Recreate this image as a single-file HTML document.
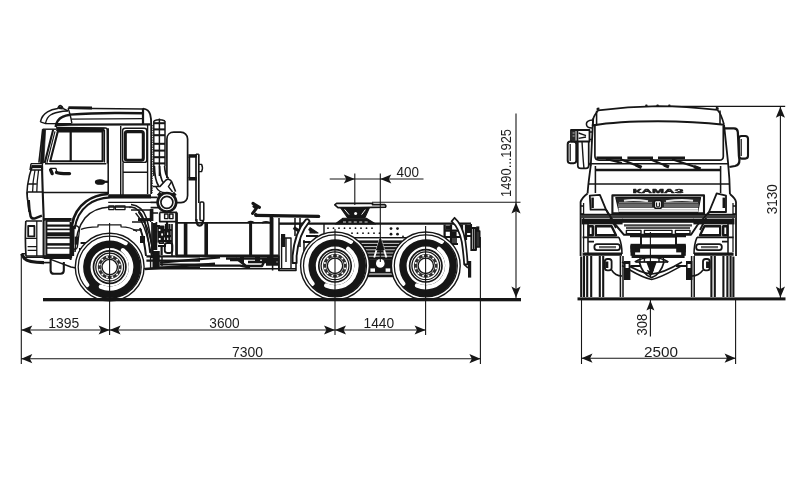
<!DOCTYPE html>
<html><head><meta charset="utf-8"><title>KAMAZ dimensions</title>
<style>
html,body{margin:0;padding:0;background:#fff;}
svg{display:block}
text{font-family:"Liberation Sans",sans-serif;fill:#1c1c1c}
svg{will-change:transform}
</style></head><body>
<svg width="800" height="484" viewBox="0 0 800 484" stroke-linecap="butt" stroke-linejoin="round">
<rect x="0" y="0" width="800" height="484" fill="#fff"/>
<path d="M176,222.8 H272.5" stroke="#161616" stroke-width="1.68" fill="none" />
<path d="M279,223.6 H471" stroke="#161616" stroke-width="2.24" fill="none" />
<path d="M324,237.6 H420 M324,224 V237.6" stroke="#161616" stroke-width="1.4" fill="none" />
<circle cx="328" cy="228.2" r="0.9" stroke="#161616" stroke-width="0.0" fill="#161616"/>
<circle cx="333.5" cy="228.2" r="0.9" stroke="#161616" stroke-width="0.0" fill="#161616"/>
<circle cx="339" cy="228.2" r="0.9" stroke="#161616" stroke-width="0.0" fill="#161616"/>
<circle cx="344.5" cy="228.2" r="0.9" stroke="#161616" stroke-width="0.0" fill="#161616"/>
<circle cx="350" cy="228.2" r="0.9" stroke="#161616" stroke-width="0.0" fill="#161616"/>
<circle cx="355.5" cy="228.2" r="0.9" stroke="#161616" stroke-width="0.0" fill="#161616"/>
<circle cx="361" cy="228.2" r="0.9" stroke="#161616" stroke-width="0.0" fill="#161616"/>
<circle cx="366.5" cy="228.2" r="0.9" stroke="#161616" stroke-width="0.0" fill="#161616"/>
<circle cx="372" cy="228.2" r="0.9" stroke="#161616" stroke-width="0.0" fill="#161616"/>
<circle cx="352" cy="233.2" r="0.9" stroke="#161616" stroke-width="0.0" fill="#161616"/>
<circle cx="357.5" cy="233.2" r="0.9" stroke="#161616" stroke-width="0.0" fill="#161616"/>
<circle cx="363" cy="233.2" r="0.9" stroke="#161616" stroke-width="0.0" fill="#161616"/>
<circle cx="368.5" cy="233.2" r="0.9" stroke="#161616" stroke-width="0.0" fill="#161616"/>
<circle cx="374" cy="233.2" r="0.9" stroke="#161616" stroke-width="0.0" fill="#161616"/>
<circle cx="379.5" cy="233.2" r="0.9" stroke="#161616" stroke-width="0.0" fill="#161616"/>
<circle cx="391" cy="228.6" r="1.4" stroke="#161616" stroke-width="0.0" fill="#161616"/>
<circle cx="391" cy="234.2" r="1.4" stroke="#161616" stroke-width="0.0" fill="#161616"/>
<circle cx="397.5" cy="228.6" r="1.4" stroke="#161616" stroke-width="0.0" fill="#161616"/>
<circle cx="397.5" cy="234.2" r="1.4" stroke="#161616" stroke-width="0.0" fill="#161616"/>
<circle cx="403" cy="236.3" r="0.9" stroke="#161616" stroke-width="0.0" fill="#161616"/>
<path d="M40.4,121.9 C41.5,117 44.5,113.6 47.5,111.9 C50.5,110.2 54,109.2 57.6,108.6 L59,106.2 Q60.2,104.9 61.6,106.2 L63.3,108.6 L68,111" stroke="#161616" stroke-width="1.54" fill="none" />
<path d="M45.6,123.2 C46.5,119 48,116.5 50.5,115 C53.5,113.2 58,112 63,111.3 L67.7,111" stroke="#161616" stroke-width="1.4" fill="none" />
<path d="M40.4,121.9 L45.6,123.6 L71.5,123.7" stroke="#161616" stroke-width="1.4" fill="none" />
<path d="M58.3,107.6 L62.8,108" stroke="#161616" stroke-width="2.8" fill="none" />
<path d="M68,108.2 L143,109" stroke="#161616" stroke-width="1.4" fill="none" />
<path d="M68.5,107.6 L92,108" stroke="#161616" stroke-width="2.8" fill="none" />
<path d="M70,114.6 C85,113.4 105,112.9 120,113 L143,113.2" stroke="#161616" stroke-width="2.38" fill="none" />
<path d="M71.3,119.2 L143,118.7" stroke="#161616" stroke-width="1.26" fill="none" />
<path d="M55.8,125 L71,124.6 L150.5,124.4" stroke="#161616" stroke-width="2.38" fill="none" />
<path d="M55.6,127 C56.2,122.5 59,118.6 62.5,116.9 C65,115.6 68,115 70,114.7" stroke="#161616" stroke-width="2.38" fill="none" />
<path d="M68,108.2 C69.6,112 71,118 71.9,123.4" stroke="#161616" stroke-width="1.4" fill="none" />
<path d="M143,108.4 V124.4" stroke="#161616" stroke-width="2.24" fill="none" />
<path d="M143,108.6 C147,109 149.3,111 150.2,114.5 C151,117.5 151.2,121 151.2,124 V194" stroke="#161616" stroke-width="1.82" fill="none" />
<path d="M147.6,125 V194" stroke="#161616" stroke-width="1.4" fill="none" />
<path d="M56.2,127.6 L105.3,128 Q107.2,128.1 107.3,130 L107.5,163.6" stroke="#161616" stroke-width="1.68" fill="none" />
<path d="M56.2,129.3 L104.5,129.6" stroke="#161616" stroke-width="3.64" fill="none" />
<path d="M57.8,131.4 H102.6 V161.2 H50.2 Z" stroke="#161616" stroke-width="2.1" fill="none" />
<path d="M70.7,131 V161.4" stroke="#161616" stroke-width="2.24" fill="none" />
<path d="M104.4,130 V162.5" stroke="#161616" stroke-width="1.4" fill="none" />
<path d="M45,163.7 H106.3" stroke="#161616" stroke-width="1.54" fill="none" />
<path d="M42.7,129.2 H56" stroke="#161616" stroke-width="1.4" fill="none" />
<path d="M42.7,129.2 L38.9,162.6" stroke="#161616" stroke-width="1.54" fill="none" />
<path d="M42.6,130 L45.6,130 L43.8,163 L40.3,163 Z" stroke="#161616" stroke-width="0.7" fill="#161616" />
<path d="M53.2,129.6 L44.7,163" stroke="#161616" stroke-width="2.1" fill="none" />
<path d="M55,131.4 L46.9,163" stroke="#161616" stroke-width="1.12" fill="none" />
<path d="M108.2,128.2 V194" stroke="#161616" stroke-width="1.54" fill="none" />
<path d="M43,192.6 H108.2" stroke="#161616" stroke-width="1.54" fill="none" />
<path d="M120.7,126 V195" stroke="#161616" stroke-width="1.4" fill="none" />
<path d="M50.2,168.4 H56 L57,173.2 H69.5" stroke="#161616" stroke-width="1.26" fill="none" />
<path d="M50.6,169.8 L52.2,173.6 M56.5,172.5 C60,173.8 65,173.6 69.5,173.6" stroke="#161616" stroke-width="3.36" fill="none" stroke-linecap="round"/>
<ellipse cx="100" cy="182" rx="4.6" ry="2.3" stroke="#161616" stroke-width="1.12" fill="#161616"/>
<path d="M103,181.8 H108" stroke="#161616" stroke-width="2.24" fill="none" />
<rect x="122.6" y="128.2" width="24.2" height="34.2" rx="2.5" stroke="#161616" stroke-width="1.4" fill="none"/>
<rect x="125.3" y="131.6" width="18" height="28.6" rx="2" stroke="#161616" stroke-width="3.08" fill="none"/>
<path d="M123,172.3 H147 M123,162.4 V195" stroke="#161616" stroke-width="1.4" fill="none" />
<path d="M32.5,165.6 C30.5,171 28.6,178 27.6,185 C26.8,190 26.8,196 27.6,200" stroke="#161616" stroke-width="1.54" fill="none" />
<path d="M28.7,200 C28.9,206 29.6,212 30.6,216.2 C31.6,218.6 33.5,218.8 35,218.4 L41.9,215.6" stroke="#161616" stroke-width="2.52" fill="none" />
<path d="M31,163.6 H42.4 V170 H30.2" stroke="#161616" stroke-width="1.4" fill="none" />
<path d="M31,163.6 L30,170" stroke="#161616" stroke-width="1.4" fill="none" />
<path d="M31.6,166.6 H42" stroke="#161616" stroke-width="3.08" fill="none" />
<path d="M35,170 C33.4,178 32.6,186 32.6,192 M38.6,170 C37.4,178 36.8,186 36.8,192" stroke="#161616" stroke-width="1.26" fill="none" />
<path d="M28,184 H36.8 M27.4,192 H43" stroke="#161616" stroke-width="1.26" fill="none" />
<path d="M42,166 C42.3,180 42.8,195 43.6,215 V258.6" stroke="#161616" stroke-width="2.1" fill="none" />
<path d="M27.4,192 C27.2,197 27.8,205 29,212" stroke="#161616" stroke-width="1.26" fill="none" />
<path d="M108.2,195.6 H151" stroke="#161616" stroke-width="2.8" fill="none" />
<path d="M108.2,202.4 H151" stroke="#161616" stroke-width="1.4" fill="none" />
<rect x="108.8" y="206" width="5.2" height="3.6" rx="0" stroke="#161616" stroke-width="1.26" fill="none"/>
<rect x="115.4" y="206" width="9.6" height="3.6" rx="0" stroke="#161616" stroke-width="1.26" fill="none"/>
<circle cx="130" cy="207.4" r="0.8" stroke="#161616" stroke-width="0.0" fill="#161616"/>
<path d="M108.2,194 C100,194.6 92,197 86,201.5 C78.5,207 73.6,215 72,225 L70.8,258" stroke="#161616" stroke-width="2.66" fill="none" />
<path d="M151,197.4 H110.5 C101,198 93,200.6 87.6,205 C80.5,210.6 76,219 74.6,229" stroke="#161616" stroke-width="2.1" fill="none" />
<path d="M75,252 C75.4,238 78.5,226 85,218 C91,211 100,207.4 110,207 H131 C137,207.6 141,212 143.6,219 C146.6,228 148.6,240 150,253" stroke="#161616" stroke-width="1.54" fill="none" />
<path d="M131,204.6 C139,205.4 143.6,210 146.4,218 C149.4,228 151.4,240 152.6,254" stroke="#161616" stroke-width="1.54" fill="none" />
<path d="M74,226 C76.4,225 78.6,226.4 79.6,229 L77.4,247 C76.4,250 74,250 73.4,248 Z" stroke="#161616" stroke-width="1.26" fill="none" />
<path d="M44,219.4 H71.6" stroke="#161616" stroke-width="2.8" fill="none" />
<path d="M81,229.4 C85,227.4 90,226.8 98,226.8 V224.8 H121 V226.8 C127,226.8 133,228.4 137,231.4" stroke="#161616" stroke-width="1.26" fill="none" />
<line x1="46.2" y1="221" x2="70.4" y2="221" stroke="#161616" stroke-width="1.68" />
<line x1="46.2" y1="225.6" x2="70.4" y2="225.6" stroke="#161616" stroke-width="2.24" />
<line x1="46.2" y1="229.4" x2="70.4" y2="229.4" stroke="#161616" stroke-width="1.68" />
<line x1="46.2" y1="234.3" x2="70.4" y2="234.3" stroke="#161616" stroke-width="4.06" />
<line x1="46.2" y1="237.8" x2="70.4" y2="237.8" stroke="#161616" stroke-width="1.68" />
<line x1="46.2" y1="244.4" x2="70.4" y2="244.4" stroke="#161616" stroke-width="2.52" />
<line x1="46.2" y1="248" x2="70.4" y2="248" stroke="#161616" stroke-width="1.4" />
<line x1="46.2" y1="255.2" x2="70.4" y2="255.2" stroke="#161616" stroke-width="2.8" />
<path d="M46.4,221 V258 M70.6,222 V260" stroke="#161616" stroke-width="1.96" fill="none" />
<path d="M25.8,221 H42 M25.8,221 C25.2,232 25.2,244 26,256 M26,256 H43" stroke="#161616" stroke-width="1.68" fill="none" />
<rect x="28.2" y="226" width="6.2" height="10.4" rx="0" stroke="#161616" stroke-width="1.82" fill="none"/>
<path d="M36.8,221 V256 M26,238.4 H36.8 M27.6,246.6 H36.8 M27.6,250.4 H36.8" stroke="#161616" stroke-width="1.26" fill="none" />
<path d="M21.6,253.8 L24.4,258.6 C27,261.6 36,262.6 44,262.6" stroke="#161616" stroke-width="3.08" fill="none" />
<path d="M21.6,253.8 H26 M24,257.2 H44" stroke="#161616" stroke-width="1.4" fill="none" />
<rect x="44" y="255.2" width="27.4" height="3.8" rx="0" stroke="#161616" stroke-width="0.0" fill="#161616"/>
<path d="M50.6,259 V270.6 Q50.8,273.8 54,273.8 H60.6 Q63.8,273.8 63.8,270.6 V262" stroke="#161616" stroke-width="2.1" fill="none" />
<path d="M50.6,259.4 L71,267 L76,268" stroke="#161616" stroke-width="1.54" fill="none" />
<path d="M44,262.6 H50.6" stroke="#161616" stroke-width="1.68" fill="none" />
<path d="M153.8,121 V176 M159.4,118.6 V176 M165,121 V166" stroke="#161616" stroke-width="1.47" fill="none" />
<path d="M153.8,121 Q159.4,118.6 165,121" stroke="#161616" stroke-width="1.54" fill="none" />
<line x1="153.8" y1="123.2" x2="165" y2="123.2" stroke="#161616" stroke-width="2.03" />
<line x1="153.8" y1="129.4" x2="165" y2="129.4" stroke="#161616" stroke-width="2.03" />
<line x1="153.8" y1="135.2" x2="165" y2="135.2" stroke="#161616" stroke-width="2.03" />
<line x1="153.8" y1="143.8" x2="165" y2="143.8" stroke="#161616" stroke-width="2.03" />
<line x1="153.8" y1="150.6" x2="165" y2="150.6" stroke="#161616" stroke-width="2.03" />
<line x1="153.8" y1="157.2" x2="165" y2="157.2" stroke="#161616" stroke-width="2.03" />
<line x1="153.8" y1="163.4" x2="165" y2="163.4" stroke="#161616" stroke-width="2.03" />
<path d="M152,125 V193" stroke="#161616" stroke-width="1.4" fill="none" stroke-dasharray="1.3 1.1"/>
<path d="M154.4,166 C154.6,176 156,182 158.6,186 M159.6,166 C159.8,174 161,180 163.6,183 M164.6,166 C164.8,172 166,176 168.6,178.6" stroke="#161616" stroke-width="1.68" fill="none" />
<path d="M152.6,186.4 H160 L166,180 C168,178.6 170.6,179.6 171.6,181.6 L175.6,191.6" stroke="#161616" stroke-width="1.54" fill="none" />
<path d="M156,187 C158,191 162,193 167,192.6 M171.6,181.6 L168.4,186.6 L172.6,192" stroke="#161616" stroke-width="1.4" fill="none" />
<path d="M173,202.6 H181 C185,202.6 187.6,199.6 187.6,195.6 V139 C187.6,135 184.6,132.2 180.6,132.2 H173.8 C169.8,132.2 166.9,135 166.9,139 V178" stroke="#161616" stroke-width="1.68" fill="none" />
<circle cx="166.9" cy="202.3" r="9.3" stroke="#161616" stroke-width="2.66" fill="#fff"/>
<circle cx="166.9" cy="202.3" r="6.0" stroke="#161616" stroke-width="1.68" fill="none"/>
<path d="M158,195.6 L160.6,192.6 M175.6,195.6 L173,192.6" stroke="#161616" stroke-width="2.8" fill="none" />
<path d="M150.6,197.4 H157.6 M150.6,207.6 H158.6 M150.6,202.4 H157.4" stroke="#161616" stroke-width="1.68" fill="none" />
<rect x="188.4" y="154.2" width="8.4" height="3.5" rx="0" stroke="#161616" stroke-width="0.0" fill="#161616"/>
<rect x="188.4" y="177" width="8.4" height="3.5" rx="0" stroke="#161616" stroke-width="0.0" fill="#161616"/>
<path d="M189.4,157 V178 M196,154.2 V221 M198.8,154.2 V203" stroke="#161616" stroke-width="1.68" fill="none" />
<path d="M196,154.2 H198.8" stroke="#161616" stroke-width="1.4" fill="none" />
<path d="M198.8,164.4 H201.6 Q203.4,168 201.6,171.6 H198.8" stroke="#161616" stroke-width="1.4" fill="none" />
<rect x="200" y="202" width="3.8" height="18.6" rx="1.2" stroke="#161616" stroke-width="1.54" fill="none"/>
<path d="M196.4,219 Q196.4,225.6 199.6,225.6 Q203,225.6 203,220" stroke="#161616" stroke-width="2.24" fill="none" />
<path d="M176,212.6 V255.6" stroke="#161616" stroke-width="1.68" fill="none" />
<path d="M176,255.8 H278.6" stroke="#161616" stroke-width="2.8" fill="none" />
<path d="M185.6,223 V256 M206.2,223 V256" stroke="#161616" stroke-width="3.64" fill="none" />
<path d="M250.6,223 V257" stroke="#161616" stroke-width="3.0" fill="none" />
<path d="M271.4,216 V262" stroke="#161616" stroke-width="3.6" fill="none" />
<path d="M247.6,222.8 Q250.6,220.6 254,222.8 M262,222.8 Q266,220.8 270,222.8" stroke="#161616" stroke-width="1.68" fill="none" />
<path d="M256,215.4 L318.6,216.4" stroke="#161616" stroke-width="3.4" fill="none" stroke-linecap="round"/>
<path d="M254.6,213.6 L257.6,216" stroke="#161616" stroke-width="3.08" fill="none" />
<path d="M252.6,213.4 L256.4,208.4 L254,206.4 M253,203.4 L259.4,207.4" stroke="#161616" stroke-width="3.08" fill="none" stroke-linecap="round"/>
<path d="M272.6,218 V270.6 M279,218 V270.6 M295,218 V236 M300,218 V230" stroke="#161616" stroke-width="1.54" fill="none" />
<path d="M279,223.6 H300" stroke="#161616" stroke-width="1.4" fill="none" />
<path d="M140,268.8 H296" stroke="#161616" stroke-width="1.54" fill="none" />
<path d="M278.8,255.6 V270.6 H296 V250" stroke="#161616" stroke-width="1.54" fill="none" />
<path d="M281.6,238 H291 V268 M281.6,238 V268 M286,238 V262" stroke="#161616" stroke-width="1.4" fill="none" />
<path d="M236,258 L246,266 H262 L266,258 M226,258.4 H278 M248,262 H276" stroke="#161616" stroke-width="2.52" fill="none" />
<path d="M230,259.6 H244 M262,260 H278 M266,264 H278" stroke="#161616" stroke-width="3.36" fill="none" />
<rect x="240" y="257" width="4" height="6" rx="0" stroke="#161616" stroke-width="0.0" fill="#161616"/>
<rect x="255" y="257" width="5" height="5" rx="0" stroke="#161616" stroke-width="0.0" fill="#161616"/>
<rect x="267" y="257" width="6" height="8" rx="0" stroke="#161616" stroke-width="0.0" fill="#161616"/>
<path d="M160,262.6 L220,257.4 M145,269 L215,263.6 M190,265.6 H240 L250,267.6" stroke="#161616" stroke-width="2.38" fill="none" />
<path d="M150.6,256 V268 M162,256 V266" stroke="#161616" stroke-width="1.4" fill="none" />
<rect x="281" y="234" width="4.2" height="13" rx="0" stroke="#161616" stroke-width="0.0" fill="#161616"/>
<path d="M293.6,227.6 L298.6,230.6" stroke="#161616" stroke-width="3.36" fill="none" />
<path d="M308.6,229 L315,232.6 M306,236 H318 M303,242 H314" stroke="#161616" stroke-width="2.1" fill="none" />
<path d="M310,227.6 L318,233 H310 Z" stroke="#161616" stroke-width="1.12" fill="#161616" />
<path d="M300,224 V247 M304,240 V252" stroke="#161616" stroke-width="1.54" fill="none" />
<path d="M305.8,219.6 C298.4,228 294,240 292.6,256 V263 H296.6 V256 C298,241 302.4,230 309.6,221.4 Q308.4,218.2 305.8,219.6 Z" stroke="#161616" stroke-width="1.82" fill="#fff" />
<path d="M334.8,204.8 L336.6,203.3 H372.5 V204.6 H384.6 Q386.6,205.4 385.4,207.2 L359,207.6 H338 Z" stroke="#161616" stroke-width="1.68" fill="#fff" />
<path d="M340.5,207.6 L347.4,217.4 H365 L369.4,207.8 Z" stroke="#161616" stroke-width="1.12" fill="#161616" />
<path d="M344.6,209.4 L349,214.6 M365.4,209.6 L361.6,214.6" stroke="#fff" stroke-width="0.98" fill="none" />
<circle cx="355.6" cy="213.6" r="1.5" stroke="#161616" stroke-width="0.0" fill="#fff"/>
<path d="M335.3,224 L343,218.2 H366.3 L375.6,224 Z" stroke="#161616" stroke-width="1.12" fill="#161616" />
<path d="M343,222 H368" stroke="#fff" stroke-width="0.84" fill="none" stroke-dasharray="3 2.4"/>
<path d="M324,237.6 H437" stroke="#161616" stroke-width="1.4" fill="none" />
<rect x="358" y="240.4" width="44" height="19.4" rx="0" stroke="#161616" stroke-width="0.0" fill="#161616"/>
<line x1="359" y1="243.4" x2="401" y2="243.4" stroke="#fff" stroke-width="0.77" />
<line x1="359" y1="246.6" x2="401" y2="246.6" stroke="#fff" stroke-width="0.77" />
<line x1="359" y1="249.8" x2="401" y2="249.8" stroke="#fff" stroke-width="0.77" />
<line x1="359" y1="253" x2="401" y2="253" stroke="#fff" stroke-width="0.77" />
<line x1="359" y1="256.2" x2="401" y2="256.2" stroke="#fff" stroke-width="0.77" />
<path d="M380.3,238 L374.2,257.4 M380.3,238 L386.4,257.4" stroke="#fff" stroke-width="1.82" fill="none" />
<path d="M380.3,237.6 L376.4,250 H384.2 Z" stroke="#161616" stroke-width="0.84" fill="#161616" />
<rect x="366" y="259.6" width="29" height="17.6" rx="0" stroke="#161616" stroke-width="0.0" fill="#161616"/>
<circle cx="380.3" cy="263.4" r="4.3" stroke="#161616" stroke-width="0.0" fill="#fff"/>
<rect x="370.4" y="268.4" width="4.6" height="3.4" rx="0" stroke="#161616" stroke-width="0.0" fill="#fff"/>
<rect x="385.6" y="268.4" width="4.6" height="3.4" rx="0" stroke="#161616" stroke-width="0.0" fill="#fff"/>
<path d="M368,274 H393" stroke="#fff" stroke-width="0.98" fill="none" />
<path d="M444.6,224.6 V244 H458 M451,224.6 V244 M445,230.6 H458 M445,237 H460" stroke="#161616" stroke-width="2.24" fill="none" />
<rect x="445.4" y="225.4" width="4.8" height="4.4" rx="0" stroke="#161616" stroke-width="0.0" fill="#161616"/>
<rect x="452" y="231.4" width="4.6" height="4.6" rx="0" stroke="#161616" stroke-width="0.0" fill="#161616"/>
<rect x="452" y="238" width="5" height="5" rx="0" stroke="#161616" stroke-width="0.0" fill="#444"/>
<path d="M462,224.6 V236 H471 M466,224.6 V240" stroke="#161616" stroke-width="2.24" fill="none" />
<rect x="466.6" y="225" width="4.4" height="8" rx="0" stroke="#161616" stroke-width="0.0" fill="#161616"/>
<path d="M454.6,217.8 C459.6,222 463.6,231 465.4,241 C466.6,250 467.4,258 467.6,264.4 H464.2 C463.8,258 463,250 461.8,242 C459.8,232 455.8,225 451.6,221.4 Z" stroke="#161616" stroke-width="1.75" fill="#fff" />
<rect x="468" y="261" width="3.2" height="16.6" rx="0" stroke="#161616" stroke-width="0.0" fill="#161616"/>
<path d="M464.2,264.4 L468,268" stroke="#161616" stroke-width="1.68" fill="none" />
<path d="M471.2,224 V251" stroke="#161616" stroke-width="1.68" fill="none" />
<path d="M471.2,228 H476 V250 H471.2 M473.6,228 V250" stroke="#161616" stroke-width="1.96" fill="none" />
<rect x="476" y="231" width="3.8" height="16" rx="0" stroke="#161616" stroke-width="1.4" fill="#333"/>
<path d="M477.8,226.4 V231" stroke="#161616" stroke-width="3.08" fill="none" />
<path d="M159.7,212.4 H177 M159.7,212.4 V221.6 H177" stroke="#161616" stroke-width="1.68" fill="none" />
<rect x="164.6" y="214" width="3.4" height="4.6" rx="0" stroke="#161616" stroke-width="1.4" fill="none"/>
<rect x="169.6" y="214" width="3.4" height="4.6" rx="0" stroke="#161616" stroke-width="1.4" fill="none"/>
<path d="M177,212.4 V256" stroke="#161616" stroke-width="1.82" fill="none" />
<path d="M152,222 V258 M156.4,222 V250 M172,224 V256" stroke="#161616" stroke-width="1.68" fill="none" />
<path d="M153,226 H160 M158,230 H172 M158,236 H171 M160,241 H172 M158,246 H166" stroke="#161616" stroke-width="1.96" fill="none" />
<rect x="158.6" y="226.4" width="5" height="5.6" rx="0" stroke="#161616" stroke-width="1.68" fill="none"/>
<rect x="165" y="231.6" width="4.6" height="5.4" rx="0" stroke="#161616" stroke-width="1.68" fill="none"/>
<rect x="159.4" y="238.6" width="4" height="4.6" rx="0" stroke="#161616" stroke-width="1.54" fill="none"/>
<rect x="164.8" y="243" width="7.6" height="10" rx="2.4" stroke="#161616" stroke-width="1.82" fill="none"/>
<path d="M161.6,247 V255 M167,222 V231" stroke="#161616" stroke-width="2.24" fill="none" />
<path d="M146.4,256.4 H200 M146.4,260.6 H200" stroke="#161616" stroke-width="2.1" fill="none" />
<path d="M153.6,251 V268 M158.6,251 V268" stroke="#161616" stroke-width="2.24" fill="none" />
<path d="M135.6,213 C140,218 144,226 146.4,234 C148.6,242 150.6,250 152,258 M138.4,212 C143,218 147,226 149.2,234 C151,242 152.6,248 154,256" stroke="#161616" stroke-width="1.4" fill="none" />
<path d="M131,210 H150.6 V222 M150.6,213 H158" stroke="#161616" stroke-width="1.4" fill="none" />
<path d="M151.6,209 V221" stroke="#161616" stroke-width="3.6" fill="none" />
<path d="M138,219.6 H151" stroke="#161616" stroke-width="3.0" fill="none" />
<path d="M154.2,223 V250" stroke="#161616" stroke-width="3.64" fill="none" />
<rect x="157.4" y="227" width="6.6" height="15.6" rx="0" stroke="#161616" stroke-width="0.0" fill="#161616"/>
<rect x="158.8" y="229" width="1.6" height="2" rx="0" stroke="#161616" stroke-width="0.0" fill="#fff"/>
<rect x="161.2" y="233.4" width="1.8" height="2.2" rx="0" stroke="#161616" stroke-width="0.0" fill="#fff"/>
<rect x="158.8" y="238" width="1.8" height="2" rx="0" stroke="#161616" stroke-width="0.0" fill="#fff"/>
<path d="M156.4,251 V267.6" stroke="#161616" stroke-width="5.4" fill="none" />
<path d="M166,224 V242 M169.4,224 V242" stroke="#161616" stroke-width="2.24" fill="none" />
<path d="M160,264.6 H215 M160,267.6 H200" stroke="#161616" stroke-width="1.96" fill="none" />
<path d="M140,228 C143,236 145,246 146,256" stroke="#161616" stroke-width="1.96" fill="none" />
<rect x="140" y="236" width="5" height="7" rx="0" stroke="#161616" stroke-width="0.0" fill="#161616"/>
<path d="M72.6,226 V256" stroke="#161616" stroke-width="3.08" fill="none" />
<rect x="74.6" y="236.6" width="3.6" height="8" rx="0" stroke="#161616" stroke-width="0.0" fill="#161616"/>
<path d="M80.6,243 H86 M79,249 H84" stroke="#161616" stroke-width="1.96" fill="none" />
<path d="M132,222 H146 M133,230 H142" stroke="#161616" stroke-width="1.68" fill="none" />
<ellipse cx="109.7" cy="267.1" rx="34.4" ry="33.8" stroke="#161616" stroke-width="1.4" fill="#fff"/>
<circle cx="109.7" cy="267.1" r="25.1" stroke="#161616" stroke-width="11.8" fill="none"/>
<path d="M86.93,284.89 A28.9,28.9 0 0,1 125.44,242.86" stroke="#fff" stroke-width="4.7" fill="none" stroke-linecap="round"/>
<path d="M122.94,250.16 A21.5,21.5 0 0,1 100.96,286.74" stroke="#fff" stroke-width="4.3" fill="none" stroke-linecap="round"/>
<ellipse cx="109.7" cy="267.1" rx="31.5" ry="30.999999999999996" stroke="#161616" stroke-width="1.26" fill="none"/>
<circle cx="109.7" cy="267.1" r="16.2" stroke="#161616" stroke-width="1.68" fill="none"/>
<circle cx="109.7" cy="267.1" r="13.9" stroke="#161616" stroke-width="1.26" fill="none"/>
<circle cx="109.7" cy="267.1" r="10.4" stroke="#2e2e2e" stroke-width="3.0" fill="none"/>
<circle cx="119.75" cy="269.79" r="1.0" stroke="#161616" stroke-width="0.0" fill="#fff"/>
<circle cx="117.05" cy="274.45" r="1.0" stroke="#161616" stroke-width="0.0" fill="#fff"/>
<circle cx="112.39" cy="277.15" r="1.0" stroke="#161616" stroke-width="0.0" fill="#fff"/>
<circle cx="107.01" cy="277.15" r="1.0" stroke="#161616" stroke-width="0.0" fill="#fff"/>
<circle cx="102.35" cy="274.45" r="1.0" stroke="#161616" stroke-width="0.0" fill="#fff"/>
<circle cx="99.65" cy="269.79" r="1.0" stroke="#161616" stroke-width="0.0" fill="#fff"/>
<circle cx="99.65" cy="264.41" r="1.0" stroke="#161616" stroke-width="0.0" fill="#fff"/>
<circle cx="102.35" cy="259.75" r="1.0" stroke="#161616" stroke-width="0.0" fill="#fff"/>
<circle cx="107.01" cy="257.05" r="1.0" stroke="#161616" stroke-width="0.0" fill="#fff"/>
<circle cx="112.39" cy="257.05" r="1.0" stroke="#161616" stroke-width="0.0" fill="#fff"/>
<circle cx="117.05" cy="259.75" r="1.0" stroke="#161616" stroke-width="0.0" fill="#fff"/>
<circle cx="119.75" cy="264.41" r="1.0" stroke="#161616" stroke-width="0.0" fill="#fff"/>
<circle cx="109.7" cy="267.1" r="7.7" stroke="#161616" stroke-width="1.4" fill="#fff"/>
<ellipse cx="335" cy="265.8" rx="34.4" ry="33.8" stroke="#161616" stroke-width="1.4" fill="#fff"/>
<circle cx="335" cy="265.8" r="25.1" stroke="#161616" stroke-width="11.8" fill="none"/>
<path d="M312.23,283.59 A28.9,28.9 0 0,1 350.74,241.56" stroke="#fff" stroke-width="4.7" fill="none" stroke-linecap="round"/>
<path d="M348.24,248.86 A21.5,21.5 0 0,1 326.26,285.44" stroke="#fff" stroke-width="4.3" fill="none" stroke-linecap="round"/>
<ellipse cx="335" cy="265.8" rx="31.5" ry="30.999999999999996" stroke="#161616" stroke-width="1.26" fill="none"/>
<circle cx="335" cy="265.8" r="16.2" stroke="#161616" stroke-width="1.68" fill="none"/>
<circle cx="335" cy="265.8" r="13.9" stroke="#161616" stroke-width="1.26" fill="none"/>
<circle cx="335" cy="265.8" r="10.4" stroke="#2e2e2e" stroke-width="3.0" fill="none"/>
<circle cx="345.05" cy="268.49" r="1.0" stroke="#161616" stroke-width="0.0" fill="#fff"/>
<circle cx="342.35" cy="273.15" r="1.0" stroke="#161616" stroke-width="0.0" fill="#fff"/>
<circle cx="337.69" cy="275.85" r="1.0" stroke="#161616" stroke-width="0.0" fill="#fff"/>
<circle cx="332.31" cy="275.85" r="1.0" stroke="#161616" stroke-width="0.0" fill="#fff"/>
<circle cx="327.65" cy="273.15" r="1.0" stroke="#161616" stroke-width="0.0" fill="#fff"/>
<circle cx="324.95" cy="268.49" r="1.0" stroke="#161616" stroke-width="0.0" fill="#fff"/>
<circle cx="324.95" cy="263.11" r="1.0" stroke="#161616" stroke-width="0.0" fill="#fff"/>
<circle cx="327.65" cy="258.45" r="1.0" stroke="#161616" stroke-width="0.0" fill="#fff"/>
<circle cx="332.31" cy="255.75" r="1.0" stroke="#161616" stroke-width="0.0" fill="#fff"/>
<circle cx="337.69" cy="255.75" r="1.0" stroke="#161616" stroke-width="0.0" fill="#fff"/>
<circle cx="342.35" cy="258.45" r="1.0" stroke="#161616" stroke-width="0.0" fill="#fff"/>
<circle cx="345.05" cy="263.11" r="1.0" stroke="#161616" stroke-width="0.0" fill="#fff"/>
<circle cx="335" cy="265.8" r="7.7" stroke="#161616" stroke-width="1.4" fill="#fff"/>
<ellipse cx="425.8" cy="265.8" rx="34.4" ry="33.8" stroke="#161616" stroke-width="1.4" fill="#fff"/>
<circle cx="425.8" cy="265.8" r="25.1" stroke="#161616" stroke-width="11.8" fill="none"/>
<path d="M403.03,283.59 A28.9,28.9 0 0,1 441.54,241.56" stroke="#fff" stroke-width="4.7" fill="none" stroke-linecap="round"/>
<path d="M439.04,248.86 A21.5,21.5 0 0,1 417.06,285.44" stroke="#fff" stroke-width="4.3" fill="none" stroke-linecap="round"/>
<ellipse cx="425.8" cy="265.8" rx="31.5" ry="30.999999999999996" stroke="#161616" stroke-width="1.26" fill="none"/>
<circle cx="425.8" cy="265.8" r="16.2" stroke="#161616" stroke-width="1.68" fill="none"/>
<circle cx="425.8" cy="265.8" r="13.9" stroke="#161616" stroke-width="1.26" fill="none"/>
<circle cx="425.8" cy="265.8" r="10.4" stroke="#2e2e2e" stroke-width="3.0" fill="none"/>
<circle cx="435.85" cy="268.49" r="1.0" stroke="#161616" stroke-width="0.0" fill="#fff"/>
<circle cx="433.15" cy="273.15" r="1.0" stroke="#161616" stroke-width="0.0" fill="#fff"/>
<circle cx="428.49" cy="275.85" r="1.0" stroke="#161616" stroke-width="0.0" fill="#fff"/>
<circle cx="423.11" cy="275.85" r="1.0" stroke="#161616" stroke-width="0.0" fill="#fff"/>
<circle cx="418.45" cy="273.15" r="1.0" stroke="#161616" stroke-width="0.0" fill="#fff"/>
<circle cx="415.75" cy="268.49" r="1.0" stroke="#161616" stroke-width="0.0" fill="#fff"/>
<circle cx="415.75" cy="263.11" r="1.0" stroke="#161616" stroke-width="0.0" fill="#fff"/>
<circle cx="418.45" cy="258.45" r="1.0" stroke="#161616" stroke-width="0.0" fill="#fff"/>
<circle cx="423.11" cy="255.75" r="1.0" stroke="#161616" stroke-width="0.0" fill="#fff"/>
<circle cx="428.49" cy="255.75" r="1.0" stroke="#161616" stroke-width="0.0" fill="#fff"/>
<circle cx="433.15" cy="258.45" r="1.0" stroke="#161616" stroke-width="0.0" fill="#fff"/>
<circle cx="435.85" cy="263.11" r="1.0" stroke="#161616" stroke-width="0.0" fill="#fff"/>
<circle cx="425.8" cy="265.8" r="7.7" stroke="#161616" stroke-width="1.4" fill="#fff"/>
<path d="M598,110.4 C615,108.2 640,106.4 658,106.2 C676,106.4 700,108 717.4,109.8" stroke="#161616" stroke-width="1.68" fill="none" />
<path d="M598,110.4 L597.4,108.8 L599.4,108.4 M717.4,109.8 L717.8,108.2 L715.8,107.8" stroke="#161616" stroke-width="1.96" fill="none" />
<rect x="645.2" y="104.6" width="2.4" height="2.2" rx="0.8" stroke="#161616" stroke-width="0.0" fill="#161616"/>
<rect x="656.4" y="104.4" width="2.4" height="2.2" rx="0.8" stroke="#161616" stroke-width="0.0" fill="#161616"/>
<rect x="668.2" y="104.6" width="2.4" height="2.2" rx="0.8" stroke="#161616" stroke-width="0.0" fill="#161616"/>
<path d="M598,110.4 C596,113 594,116 593.3,118.4 L592.6,126" stroke="#161616" stroke-width="1.68" fill="none" />
<path d="M717.4,109.8 C719.6,112 722,117 724,124.5" stroke="#161616" stroke-width="1.68" fill="none" />
<path d="M596.6,110.8 V124.6 M720,110.4 V124.6" stroke="#161616" stroke-width="1.54" fill="none" />
<path d="M592.8,125.4 C610,122.4 640,121.2 658,121.2 C676,121.2 706,122.6 724,124.8" stroke="#161616" stroke-width="2.1" fill="none" />
<path d="M592.6,120 Q586.4,120.4 586.4,124 Q586.4,128 592,128" stroke="#161616" stroke-width="1.54" fill="none" />
<path d="M594.9,125.6 V156 Q595,160 599,160.2 H719.4 Q723.2,160 723.3,156.4 V125.4" stroke="#161616" stroke-width="1.68" fill="none" />
<path d="M593.2,118.4 C592.4,130 591.6,150 590.8,165 C589.6,175 588,185 587.6,193.4" stroke="#161616" stroke-width="1.82" fill="none" />
<path d="M724,124.6 C725.4,138 727,152 728,162 C729,172 729.8,185 729.9,194" stroke="#161616" stroke-width="1.82" fill="none" />
<path d="M595.4,166 V193 M720.6,166 V193" stroke="#161616" stroke-width="1.54" fill="none" />
<path d="M596.4,157.8 H622 M627.4,157.8 H653 M658,157.8 H685" stroke="#161616" stroke-width="2.8" fill="none" />
<path d="M606,159 L622,163 M620.5,159.2 L640.6,167 M650,159.2 L668,166.6 M672,159.2 L700,168.6" stroke="#161616" stroke-width="2.1" fill="none" />
<path d="M636,165 L641.6,167.6 M664,165 L669,167 M694,166.6 L700.6,169" stroke="#161616" stroke-width="3.36" fill="none" />
<path d="M591,163.8 H728" stroke="#161616" stroke-width="1.54" fill="none" />
<path d="M596,170 H721" stroke="#161616" stroke-width="2.66" fill="none" />
<path d="M588,184 H729.6" stroke="#161616" stroke-width="1.4" fill="none" />
<path d="M571,130 H589.5 V141.5 H571 Z" stroke="#161616" stroke-width="1.82" fill="none" />
<rect x="571.4" y="130.8" width="4.2" height="10" rx="0" stroke="#161616" stroke-width="0.0" fill="#2a2a2a"/>
<path d="M572.6,133 H574.6 M572.6,136 H574.6" stroke="#bbb" stroke-width="0.98" fill="none" />
<path d="M577.4,130 V141.5" stroke="#161616" stroke-width="1.82" fill="none" />
<path d="M578.6,133 L586,135.6 M578.6,138.4 L586,137" stroke="#161616" stroke-width="1.4" fill="none" />
<path d="M589.5,132 H592 M589.5,139.6 H592" stroke="#161616" stroke-width="1.54" fill="none" />
<rect x="567.7" y="141.6" width="8.6" height="21.6" rx="2.6" stroke="#161616" stroke-width="1.96" fill="none"/>
<path d="M570.2,144 V161" stroke="#161616" stroke-width="1.26" fill="none" />
<path d="M577.8,141.5 V166 Q578,168.4 581,168.4 H586 Q588.7,168.4 588.7,165.6 V141.5" stroke="#161616" stroke-width="1.68" fill="none" />
<path d="M582,141.5 C582.6,150 583,160 584,168.4" stroke="#161616" stroke-width="1.4" fill="none" />
<path d="M588.7,163 L591,166" stroke="#161616" stroke-width="1.4" fill="none" />
<path d="M724.8,128.3 H734 Q737.6,128.4 737.8,132 L739.4,160 Q739.6,165 735,166 L729.4,167" stroke="#161616" stroke-width="2.24" fill="none" />
<rect x="738.8" y="136" width="9.2" height="22.6" rx="2.8" stroke="#161616" stroke-width="2.1" fill="none"/>
<path d="M741.2,139 V156" stroke="#161616" stroke-width="1.26" fill="none" />
<text x="658.1" y="193.3" font-size="5.8" text-anchor="middle" font-weight="bold" textLength="50.8" lengthAdjust="spacingAndGlyphs" font-family="DejaVu Sans, Liberation Sans, sans-serif" fill="#1a1a1a" stroke="#1a1a1a" stroke-width="0.5">КАМАЗ</text>
<rect x="612.4" y="195.4" width="91.6" height="18" rx="0" stroke="#161616" stroke-width="2.1" fill="#fff"/>
<path d="M615.8,197.6 H700.6 L697.6,212.8 H619.4 Z" stroke="#161616" stroke-width="1.12" fill="#262626" />
<path d="M624,200.8 C632,199.2 641,200.2 648,201.2 M666,201.2 C675,200 684,199.4 693,200.8" stroke="#e8e8e8" stroke-width="2.1" fill="none" />
<path d="M619,202.4 H652 M664,202.4 H698" stroke="#888" stroke-width="0.98" fill="none" />
<path d="M618,205.2 H652 M664,205.2 H698.6" stroke="#6a6a6a" stroke-width="3.64" fill="none" />
<path d="M618.6,209.8 H698.2" stroke="#fff" stroke-width="3.92" fill="none" />
<path d="M619,209.8 H698" stroke="#999" stroke-width="0.7" fill="none" />
<rect x="654.4" y="200.4" width="7.2" height="7.8" rx="1.8" stroke="#161616" stroke-width="1.54" fill="#fff"/>
<path d="M656.6,202.4 V206.4 M659.4,202.4 V206.4 M656.6,206.4 Q658,207.6 659.4,206.4" stroke="#161616" stroke-width="1.12" fill="none" />
<path d="M589.8,195.7 L599.9,194.9 L606,209.6 H590.6 Z" stroke="#161616" stroke-width="1.82" fill="none" />
<path d="M592.6,197.6 V208" stroke="#161616" stroke-width="2.52" fill="none" />
<path d="M606,209.6 L616,228" stroke="#161616" stroke-width="1.82" fill="none" />
<path d="M716.7,193.3 L709,212 H726 V195.7 Z" stroke="#161616" stroke-width="1.82" fill="none" />
<path d="M723.8,197.6 V208" stroke="#161616" stroke-width="2.52" fill="none" />
<path d="M709,212 L700,230" stroke="#161616" stroke-width="1.82" fill="none" />
<path d="M587.6,193.4 C584,196 581.4,199 580.6,202 V256" stroke="#161616" stroke-width="1.82" fill="none" />
<path d="M729.9,194 C733,196.6 735.6,199 736,202 V256" stroke="#161616" stroke-width="1.82" fill="none" />
<path d="M583.6,203 V252 M733,203 V252" stroke="#161616" stroke-width="1.26" fill="none" />
<path d="M581,206 H583.6 M581,214 H583.6 M733,206 H736 M733,214 H736" stroke="#161616" stroke-width="1.26" fill="none" />
<rect x="580.6" y="214.4" width="155.4" height="3.6" rx="0" stroke="#161616" stroke-width="0.0" fill="#3c3c3c"/>
<path d="M580.6,214.4 H736" stroke="#161616" stroke-width="1.12" fill="none" />
<rect x="581.6" y="218.6" width="41" height="5.8" rx="0" stroke="#161616" stroke-width="0.0" fill="#161616"/>
<rect x="693.4" y="218.6" width="41" height="5.8" rx="0" stroke="#161616" stroke-width="0.0" fill="#161616"/>
<rect x="622" y="218.6" width="72" height="4.2" rx="0" stroke="#161616" stroke-width="0.0" fill="#161616"/>
<path d="M624,225.4 H692" stroke="#444" stroke-width="2.38" fill="none" />
<path d="M626,228 H690" stroke="#161616" stroke-width="1.54" fill="none" />
<rect x="588.6" y="226.2" width="4.2" height="9" rx="0" stroke="#161616" stroke-width="2.38" fill="none"/>
<path d="M595.8,226.2 H611.6 L616,235.2 H595.8 Z" stroke="#161616" stroke-width="2.38" fill="none" />
<rect x="723.2" y="226.2" width="4.2" height="9" rx="0" stroke="#161616" stroke-width="2.38" fill="none"/>
<path d="M720.2,226.2 H704.4 L700,235.2 H720.2 Z" stroke="#161616" stroke-width="2.38" fill="none" />
<path d="M588,222 V254 M728,222 V254" stroke="#161616" stroke-width="1.54" fill="none" />
<path d="M615.7,225 L624,234.8 H691 L697.5,225" stroke="#161616" stroke-width="1.96" fill="none" />
<path d="M606,209.6 L615.7,225 M709,212 L697.5,225" stroke="#161616" stroke-width="1.82" fill="none" />
<rect x="626.4" y="230.4" width="14.6" height="3.2" rx="0" stroke="#161616" stroke-width="1.4" fill="none"/>
<rect x="644.4" y="230.4" width="27.6" height="3.2" rx="0" stroke="#161616" stroke-width="1.4" fill="none"/>
<rect x="675.4" y="230.4" width="14.6" height="3.2" rx="0" stroke="#161616" stroke-width="1.4" fill="none"/>
<path d="M582.6,237.4 H619 M697,237.4 H733.6" stroke="#161616" stroke-width="1.68" fill="none" />
<rect x="594.4" y="244.2" width="25.6" height="6" rx="2.6" stroke="#161616" stroke-width="1.82" fill="none"/>
<rect x="696.2" y="244.2" width="25.6" height="6" rx="2.6" stroke="#161616" stroke-width="1.82" fill="none"/>
<path d="M599,247.2 H616 M701,247.2 H718" stroke="#666" stroke-width="2.24" fill="none" />
<path d="M582.6,254.2 H622 M694,254.2 H733.6" stroke="#161616" stroke-width="3.2" fill="none" />
<path d="M588,241.6 H594 M722,241.6 H728" stroke="#161616" stroke-width="1.68" fill="none" />
<path d="M619,237.4 C621,242 622,248 622,254 M697,237.4 C695,242 694,248 694,254" stroke="#161616" stroke-width="1.54" fill="none" />
<rect x="641" y="236.6" width="35" height="8.6" rx="0" stroke="#161616" stroke-width="1.96" fill="none"/>
<path d="M630,236.2 H686" stroke="#161616" stroke-width="2.24" fill="none" />
<rect x="630.5" y="243.8" width="9.6" height="8.6" rx="0" stroke="#161616" stroke-width="0.0" fill="#161616"/>
<rect x="676.2" y="243.8" width="9.6" height="8.6" rx="0" stroke="#161616" stroke-width="0.0" fill="#161616"/>
<rect x="630.5" y="245.4" width="55.4" height="3.3" rx="0" stroke="#161616" stroke-width="0.0" fill="#161616"/>
<rect x="630.5" y="245.4" width="4.6" height="10.4" rx="0" stroke="#161616" stroke-width="0.0" fill="#161616"/>
<rect x="681.2" y="245.4" width="4.6" height="10.4" rx="0" stroke="#161616" stroke-width="0.0" fill="#161616"/>
<rect x="631.6" y="254.8" width="53" height="3.2" rx="0" stroke="#161616" stroke-width="0.0" fill="#161616"/>
<path d="M634.8,262 C640,258.6 648,257.6 651.6,257.6 C656,257.6 663,258.6 668.4,262" stroke="#161616" stroke-width="1.54" fill="none" />
<path d="M639.4,262 C641,270 646,276 651.6,277.6 C657,276 662,270 664,262" stroke="#161616" stroke-width="1.68" fill="none" />
<path d="M622,262 C632,268 642,273.6 651.6,274 C661,273.6 672,268 682,262" stroke="#161616" stroke-width="1.54" fill="none" />
<path d="M622,265.6 C632,271 642,278 651.6,279.4 C661,278 672,271 682,265.6" stroke="#161616" stroke-width="1.54" fill="none" />
<path d="M647,262 L651.6,274 L656,262 Z" stroke="#161616" stroke-width="1.4" fill="#161616" />
<path d="M636,262 H668" stroke="#161616" stroke-width="1.68" fill="none" />
<line x1="640" y1="258" x2="640" y2="262" stroke="#161616" stroke-width="1.4" />
<line x1="644.4" y1="258" x2="644.4" y2="262" stroke="#161616" stroke-width="1.4" />
<line x1="659" y1="258" x2="659" y2="262" stroke="#161616" stroke-width="1.4" />
<line x1="663.4" y1="258" x2="663.4" y2="262" stroke="#161616" stroke-width="1.4" />
<rect x="624" y="261" width="6.4" height="19" rx="0" stroke="#161616" stroke-width="0.0" fill="#161616"/>
<rect x="686" y="261" width="6.4" height="19" rx="0" stroke="#161616" stroke-width="0.0" fill="#161616"/>
<rect x="625.6" y="264" width="3" height="4" rx="0" stroke="#161616" stroke-width="0.0" fill="#fff"/>
<rect x="687.6" y="264" width="3" height="4" rx="0" stroke="#161616" stroke-width="0.0" fill="#fff"/>
<path d="M630.4,266 H640 M676,266 H686" stroke="#161616" stroke-width="2.24" fill="none" />
<rect x="604.8" y="259" width="6.8" height="11.4" rx="2.6" stroke="#161616" stroke-width="1.82" fill="none"/>
<rect x="703" y="259" width="6.8" height="11.4" rx="2.6" stroke="#161616" stroke-width="1.82" fill="none"/>
<path d="M606.8,261.6 V268 M707.6,261.6 V268" stroke="#161616" stroke-width="3.08" fill="none" />
<path d="M611.6,270 C614,274 618,276 622,276 M703,270 C700,274 696,276 692,276" stroke="#161616" stroke-width="1.54" fill="none" />
<path d="M581.2,256.6 V297 M584,256 V297 M587.2,256 V297 M591.2,256 V297" stroke="#161616" stroke-width="2.1" fill="none" />
<path d="M599.8,256 V297 M603.2,256 V297" stroke="#161616" stroke-width="2.1" fill="none" />
<path d="M733.4,256.6 V297 M730.6,256 V297 M727.4,256 V297 M723.4,256 V297" stroke="#161616" stroke-width="2.1" fill="none" />
<path d="M714.8,256 V297 M711.4,256 V297" stroke="#161616" stroke-width="2.1" fill="none" />
<path d="M620.4,256 V297 M623,256 V297 M691.6,256 V297 M694.2,256 V297" stroke="#161616" stroke-width="1.54" fill="none" />
<rect x="43" y="298" width="478" height="3.3" rx="0" stroke="#161616" stroke-width="0.0" fill="#161616"/>
<rect x="577.5" y="297.4" width="208" height="3.0" rx="0" stroke="#161616" stroke-width="0.0" fill="#161616"/>
<line x1="21.3" y1="254" x2="21.3" y2="364" stroke="#161616" stroke-width="1.1" />
<line x1="109.6" y1="223" x2="109.6" y2="335" stroke="#161616" stroke-width="1.1" />
<line x1="335" y1="229" x2="335" y2="335" stroke="#161616" stroke-width="1.1" />
<line x1="425.6" y1="226" x2="425.6" y2="335" stroke="#161616" stroke-width="1.1" />
<line x1="480.4" y1="237" x2="480.4" y2="364" stroke="#161616" stroke-width="1.1" />
<line x1="21.3" y1="330" x2="425.6" y2="330" stroke="#161616" stroke-width="1.1" />
<polygon points="21.30,330.00 32.30,325.40 29.90,330.00 32.30,334.60" fill="#161616"/>
<polygon points="109.60,330.00 98.60,334.60 101.00,330.00 98.60,325.40" fill="#161616"/>
<polygon points="109.60,330.00 120.60,325.40 118.20,330.00 120.60,334.60" fill="#161616"/>
<polygon points="335.00,330.00 324.00,334.60 326.40,330.00 324.00,325.40" fill="#161616"/>
<polygon points="335.00,330.00 346.00,325.40 343.60,330.00 346.00,334.60" fill="#161616"/>
<polygon points="425.60,330.00 414.60,334.60 417.00,330.00 414.60,325.40" fill="#161616"/>
<line x1="21.3" y1="358.7" x2="480.4" y2="358.7" stroke="#161616" stroke-width="1.1" />
<polygon points="21.30,358.70 32.30,354.10 29.90,358.70 32.30,363.30" fill="#161616"/>
<polygon points="480.40,358.70 469.40,363.30 471.80,358.70 469.40,354.10" fill="#161616"/>
<text x="63.7" y="327.7" font-size="14.6" text-anchor="middle" font-weight="normal" textLength="31" lengthAdjust="spacingAndGlyphs" >1395</text>
<text x="224.5" y="327.7" font-size="14.6" text-anchor="middle" font-weight="normal" textLength="30.4" lengthAdjust="spacingAndGlyphs" >3600</text>
<text x="378.8" y="328.3" font-size="14.6" text-anchor="middle" font-weight="normal" textLength="30.6" lengthAdjust="spacingAndGlyphs" >1440</text>
<text x="247.4" y="357.1" font-size="14.6" text-anchor="middle" font-weight="normal" textLength="31" lengthAdjust="spacingAndGlyphs" >7300</text>
<line x1="354.8" y1="173.5" x2="354.8" y2="205" stroke="#161616" stroke-width="1.1" />
<line x1="380.3" y1="173.5" x2="380.3" y2="262" stroke="#161616" stroke-width="1.1" />
<line x1="329.7" y1="179" x2="423.5" y2="179" stroke="#161616" stroke-width="1.1" />
<polygon points="354.80,179.00 343.80,183.60 346.20,179.00 343.80,174.40" fill="#161616"/>
<polygon points="380.30,179.00 391.30,174.40 388.90,179.00 391.30,183.60" fill="#161616"/>
<text x="407.7" y="176.6" font-size="14.6" text-anchor="middle" font-weight="normal" textLength="22.5" lengthAdjust="spacingAndGlyphs" >400</text>
<line x1="372" y1="202.3" x2="520.5" y2="202.3" stroke="#161616" stroke-width="1.1" />
<line x1="516" y1="113.5" x2="516" y2="298" stroke="#161616" stroke-width="1.1" />
<polygon points="516.00,202.60 520.60,213.60 516.00,211.20 511.40,213.60" fill="#161616"/>
<polygon points="516.00,297.60 511.40,286.60 516.00,289.00 520.60,286.60" fill="#161616"/>
<text x="511.3" y="163" font-size="14.6" text-anchor="middle" font-weight="normal" textLength="68" lengthAdjust="spacingAndGlyphs" transform="rotate(-90 511.3 163)" >1490...1925</text>
<line x1="671" y1="106.4" x2="785.2" y2="106.4" stroke="#161616" stroke-width="1.1" />
<line x1="780.4" y1="106.4" x2="780.4" y2="298" stroke="#161616" stroke-width="1.1" />
<polygon points="780.40,106.80 785.00,117.80 780.40,115.40 775.80,117.80" fill="#161616"/>
<polygon points="780.40,297.50 775.80,286.50 780.40,288.90 785.00,286.50" fill="#161616"/>
<text x="777.3" y="199.3" font-size="14.6" text-anchor="middle" font-weight="normal" textLength="30" lengthAdjust="spacingAndGlyphs" transform="rotate(-90 777.3 199.3)" >3130</text>
<line x1="581.5" y1="300" x2="581.5" y2="364" stroke="#161616" stroke-width="1.1" />
<line x1="735.6" y1="300" x2="735.6" y2="364" stroke="#161616" stroke-width="1.1" />
<line x1="581.5" y1="358.2" x2="735.6" y2="358.2" stroke="#161616" stroke-width="1.1" />
<polygon points="581.50,358.20 592.50,353.60 590.10,358.20 592.50,362.80" fill="#161616"/>
<polygon points="735.60,358.20 724.60,362.80 727.00,358.20 724.60,353.60" fill="#161616"/>
<text x="661" y="357.2" font-size="14.6" text-anchor="middle" font-weight="normal" textLength="34" lengthAdjust="spacingAndGlyphs" >2500</text>
<line x1="650.4" y1="232" x2="650.4" y2="277" stroke="#161616" stroke-width="1.1" />
<polygon points="650.40,277.30 646.80,269.80 650.40,271.30 654.00,269.80" fill="#161616"/>
<line x1="650.4" y1="300" x2="650.4" y2="336.5" stroke="#161616" stroke-width="1.1" />
<polygon points="650.40,300.60 654.40,310.60 650.40,308.60 646.40,310.60" fill="#161616"/>
<text x="647.3" y="324.6" font-size="14.6" text-anchor="middle" font-weight="normal" textLength="21.7" lengthAdjust="spacingAndGlyphs" transform="rotate(-90 647.3 324.6)" >308</text>
</svg>
</body></html>
